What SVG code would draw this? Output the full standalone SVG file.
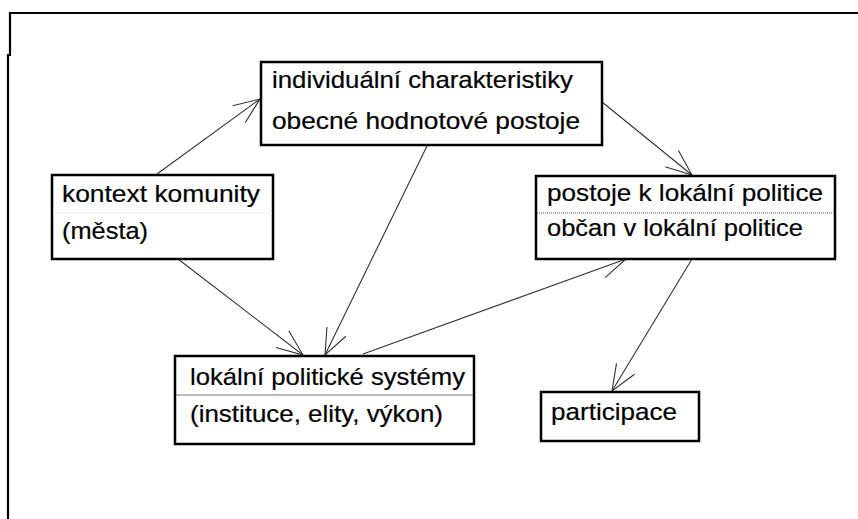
<svg xmlns="http://www.w3.org/2000/svg" width="858" height="519" viewBox="0 0 858 519">
<style>
.box{fill:#fff;stroke:#000;stroke-width:2.5}
.t{font-family:"Liberation Sans",Arial,sans-serif;font-size:24px;fill:#000;stroke:#000;stroke-width:0.2}
.con line{stroke:#333;stroke-width:1.1}
.sep{stroke:#777;stroke-width:1}
</style>
<defs>
<marker id="ah" markerUnits="userSpaceOnUse" markerWidth="30" markerHeight="24" refX="28" refY="12" orient="auto" overflow="visible">
<path d="M2 1.5 L28 12 L2 22.5" fill="none" stroke="#333" stroke-width="1.1"/>
</marker>
</defs>
<rect width="858" height="519" fill="#fff"/>
<path d="M858 13 H10 V55 H8 V519" fill="none" stroke="#000" stroke-width="2.2"/>
<g class="con">
<line x1="157" y1="174" x2="260" y2="99" marker-end="url(#ah)"/>
<line x1="178" y1="259" x2="303" y2="355" marker-end="url(#ah)"/>
<line x1="427" y1="146" x2="325" y2="355" marker-end="url(#ah)"/>
<line x1="363" y1="354" x2="626" y2="259" marker-end="url(#ah)"/>
<line x1="602" y1="102" x2="692" y2="175" marker-end="url(#ah)"/>
<line x1="692" y1="259" x2="612" y2="391" marker-end="url(#ah)"/>
</g>
<g id="individualni">
<rect class="box" x="261" y="62" width="341" height="83"/>
<text class="t" x="272" y="88" textLength="301" lengthAdjust="spacingAndGlyphs">individuální charakteristiky</text>
<text class="t" x="272" y="129" textLength="308" lengthAdjust="spacingAndGlyphs">obecné hodnotové postoje</text>
</g>
<g id="kontext">
<rect class="box" x="52" y="175" width="221" height="84"/>
<line x1="53" y1="213" x2="272" y2="213" stroke="#eee" stroke-width="1"/>
<text class="t" x="62" y="202" textLength="198" lengthAdjust="spacingAndGlyphs">kontext komunity</text>
<text class="t" x="62" y="239" textLength="86" lengthAdjust="spacingAndGlyphs">(města)</text>
</g>
<g id="postoje">
<rect class="box" x="536" y="176" width="299" height="83"/>
<line x1="537" y1="213" x2="834" y2="213" stroke="#555" stroke-width="1" stroke-dasharray="1 1"/>
<text class="t" x="547" y="201" textLength="276" lengthAdjust="spacingAndGlyphs">postoje k lokální politice</text>
<text class="t" x="547" y="236" textLength="256" lengthAdjust="spacingAndGlyphs">občan v lokální politice</text>
</g>
<g id="lokalni">
<rect class="box" x="175" y="356" width="299" height="88"/>
<line class="sep" x1="176" y1="395" x2="473" y2="395"/>
<text class="t" x="190" y="385" textLength="275" lengthAdjust="spacingAndGlyphs">lokální politické systémy</text>
<text class="t" x="190" y="422" textLength="253" lengthAdjust="spacingAndGlyphs">(instituce, elity, výkon)</text>
</g>
<g id="participace">
<rect class="box" x="541" y="392" width="158" height="49"/>
<text class="t" x="551" y="420" textLength="126" lengthAdjust="spacingAndGlyphs">participace</text>
</g>
</svg>
